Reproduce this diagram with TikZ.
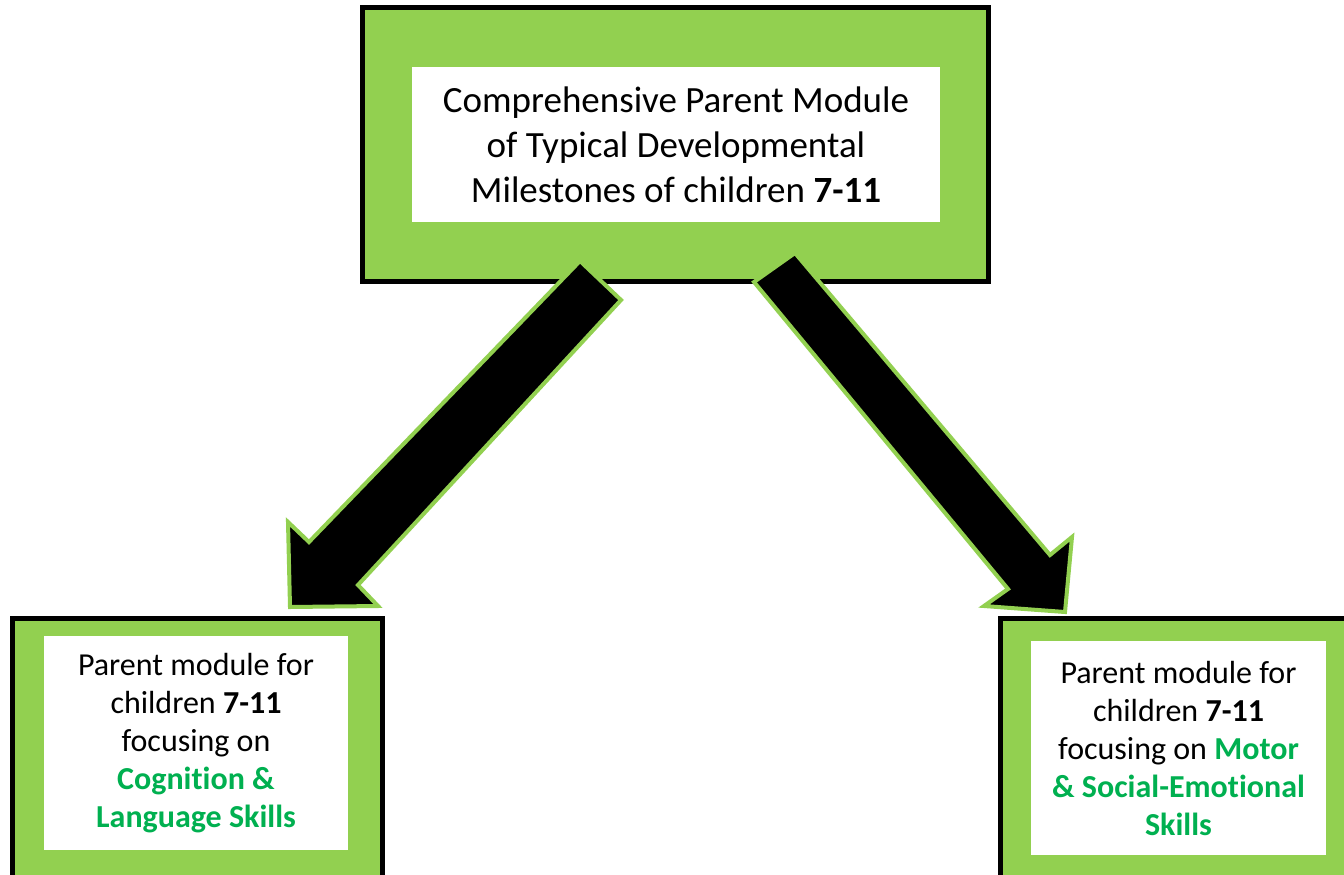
\documentclass[tikz,border=0pt]{standalone}
\usepackage{fontspec}
\setmainfont[Ligatures=NoCommon]{Carlito}
\definecolor{lgreen}{HTML}{92D050}
\definecolor{tgreen}{HTML}{00B050}
\newcommand{\nl}{\kern0pt}
\tikzset{
  outerbox/.style={draw=black, fill=lgreen, line width=5pt, rectangle, inner sep=0pt},
  innerbox/.style={fill=white, rectangle, inner sep=0pt, align=center, text=black},
  blockarrow/.style={fill=black, draw=lgreen, line width=4pt, line join=miter},
}
\begin{document}
\begin{tikzpicture}[x=1pt,y=-1pt]
\useasboundingbox (0,0) rectangle (1344,875);
\clip (0,0) rectangle (1344,875);
\fill[white] (0,0) rectangle (1344,875);
% top box
\node[outerbox, minimum width=626pt, minimum height=273pt] (top) at (675,144.5) {};
\node[innerbox, minimum width=528pt, minimum height=155pt,
      font=\fontsize{37pt}{45pt}\selectfont] (toptext) at (676,144.5)
  {Comprehensive Parent Module\\ of Typical Developmental\\ Milestones of children \textbf{7-11}};
% bottom left box
\node[outerbox, minimum width=370pt, minimum height=300pt] (left) at (197,768) {};
\node[innerbox, minimum width=304pt, minimum height=214pt,
      font=\fontsize{32pt}{38pt}\selectfont] (lefttext) at (196,743)
  {Parent module for\\ children \textbf{7-11}\\ focusing on\\ \textcolor{tgreen}{\textbf{Cogni\nl tion \&}}\\ \textcolor{tgreen}{\textbf{Language Skills}}};
% bottom right box
\node[outerbox, minimum width=380pt, minimum height=300pt] (right) at (1190,768) {};
\node[innerbox, minimum width=295pt, minimum height=214pt,
      font=\fontsize{32pt}{38pt}\selectfont] (righttext) at (1178.5,748)
  {Parent module for\\ children \textbf{7-11}\\ focusing on \textcolor{tgreen}{\textbf{Motor}}\\ \textcolor{tgreen}{\textbf{\& Social-Emo\nl tional}}\\ \textcolor{tgreen}{\textbf{Skills}}};
% left block arrow
\draw[blockarrow] (580,261) -- (621,300) -- (358,585) -- (378,606) -- (290,607)
  -- (288,522) -- (309,542) -- cycle;
% right block arrow
\draw[blockarrow] (754,282) -- (795,253) -- (1050,555) -- (1072,537) -- (1065,612)
  -- (984,606) -- (1008,589) -- cycle;
\end{tikzpicture}
\end{document}
